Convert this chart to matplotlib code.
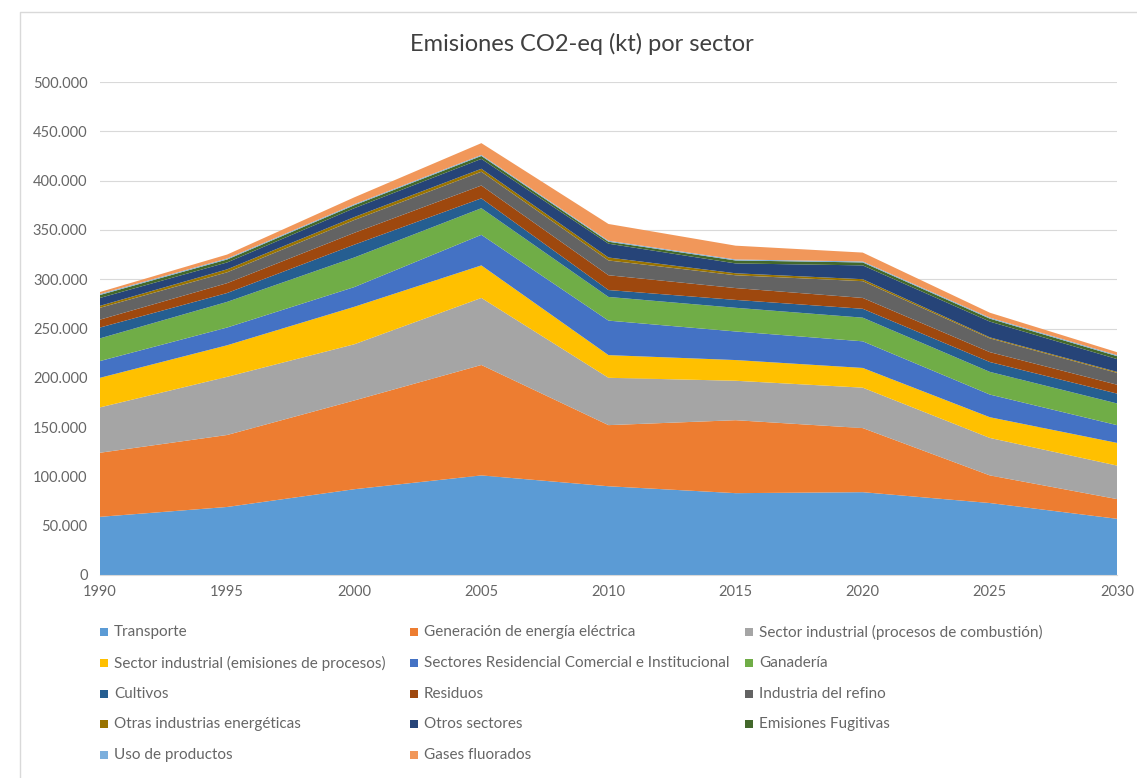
import matplotlib
matplotlib.use("Agg")
import matplotlib.pyplot as plt
from matplotlib.lines import Line2D
from matplotlib.patches import Rectangle
from matplotlib.ticker import FuncFormatter, MultipleLocator

plt.rcParams['font.family'] = ['Lato', 'DejaVu Sans']

years = [1990, 1995, 2000, 2005, 2010, 2015, 2020, 2025, 2030]

sectors = [
    "Transporte",
    "Generación de energía eléctrica",
    "Sector industrial (procesos de combustión)",
    "Sector industrial (emisiones de procesos)",
    "Sectores Residencial Comercial e Institucional",
    "Ganadería",
    "Cultivos",
    "Residuos",
    "Industria del refino",
    "Otras industrias energéticas",
    "Otros sectores",
    "Emisiones Fugitivas",
    "Uso de productos",
    "Gases fluorados",
]

# values in kt CO2-eq
transporte   = [59000, 69000, 87000, 101000, 90000, 83000, 84000, 73000, 57000]
generacion   = [65000, 73000, 90000, 112000, 62000, 74000, 65000, 28000, 20000]
ind_comb     = [46000, 59000, 57000, 68000, 48000, 40000, 41000, 38000, 34000]
ind_proc     = [30000, 32000, 38000, 33000, 23000, 21000, 20000, 21000, 23000]
residencial  = [17000, 18000, 20000, 31000, 35000, 29000, 27000, 23000, 18000]
ganaderia    = [23000, 26000, 30000, 27000, 24000, 24000, 24000, 23000, 22000]
cultivos     = [11000, 9000, 13000, 10000, 7000, 8000, 9000, 10000, 10000]
residuos     = [8000, 10000, 12000, 13000, 15000, 12000, 11000, 10000, 9000]
refino       = [12000, 11000, 13000, 14000, 15000, 13000, 17000, 14000, 12000]
otras_energ  = [2000, 3000, 3000, 3000, 3000, 2000, 2000, 1000, 1000]
otros        = [8000, 7000, 9000, 10000, 14000, 10000, 14000, 16000, 13000]
fugitivas    = [3000, 3000, 3000, 3000, 2000, 3000, 3000, 3000, 3000]
uso_prod     = [1000, 1000, 1000, 1000, 1000, 1000, 1000, 1000, 1000]
gases_fluor  = [2000, 4000, 7000, 12000, 17000, 14000, 9000, 5000, 3000]

series = [transporte, generacion, ind_comb, ind_proc, residencial, ganaderia,
          cultivos, residuos, refino, otras_energ, otros, fugitivas,
          uso_prod, gases_fluor]

colors = ["#5B9BD5", "#ED7D31", "#A5A5A5", "#FFC000", "#4472C4", "#70AD47",
          "#255E91", "#9E480E", "#636363", "#997300", "#264478", "#43682B",
          "#7CAFDD", "#F1975A"]

W, H = 1137, 778
fig = plt.figure(figsize=(W / 100, H / 100), dpi=100)
fig.patch.set_facecolor("white")

ax = fig.add_axes([100 / W, 1 - 575 / H, (1117 - 100) / W, (575 - 82) / H])
ax.stackplot(years, *series, colors=colors, labels=sectors, linewidth=0)

ax.set_xlim(1990, 2030)
ax.set_ylim(0, 500000)
ax.yaxis.set_major_locator(MultipleLocator(50000))
ax.set_xticks(years)
ax.yaxis.set_major_formatter(FuncFormatter(lambda v, p: f"{int(v):,}".replace(",", ".")))
ax.grid(axis="y", color="#D9D9D9", linewidth=0.8)
ax.set_axisbelow(True)
for s in ["top", "right", "left"]:
    ax.spines[s].set_visible(False)
ax.spines["bottom"].set_color("#D9D9D9")
ax.tick_params(axis="y", length=0, labelsize=10.5, labelcolor="#666666", pad=9)
ax.tick_params(axis="x", length=0, labelsize=10.5, labelcolor="#666666", pad=7)

fig.text(582 / W, 1 - 44 / H, "Emisiones CO2-eq (kt) por sector",
         ha="center", va="center", fontsize=17, color="#404040")

# legend (row-major, 3 columns)
colx = [100, 410, 745]
rowy = [632, 663, 694, 724, 755]
for i, (lab, c) in enumerate(zip(sectors, colors)):
    r, cidx = divmod(i, 3)
    x0 = colx[cidx]
    y0 = rowy[r]
    fig.patches.append(Rectangle((x0 / W, 1 - (y0 + 4) / H), 8 / W, 8 / H,
                                 transform=fig.transFigure, facecolor=c,
                                 edgecolor="none"))
    fig.text((x0 + 14) / W, 1 - y0 / H, lab, ha="left", va="center",
             fontsize=11, color="#666666")

# chart border (left and top edges visible; the rest is cut off)
fig.add_artist(Line2D([20 / W, 20 / W, 1.0], [0.0, 1 - 12 / H, 1 - 12 / H],
                      transform=fig.transFigure, color="#D9D9D9", linewidth=1.0))

fig.savefig("out.png", dpi=100, facecolor="white")
